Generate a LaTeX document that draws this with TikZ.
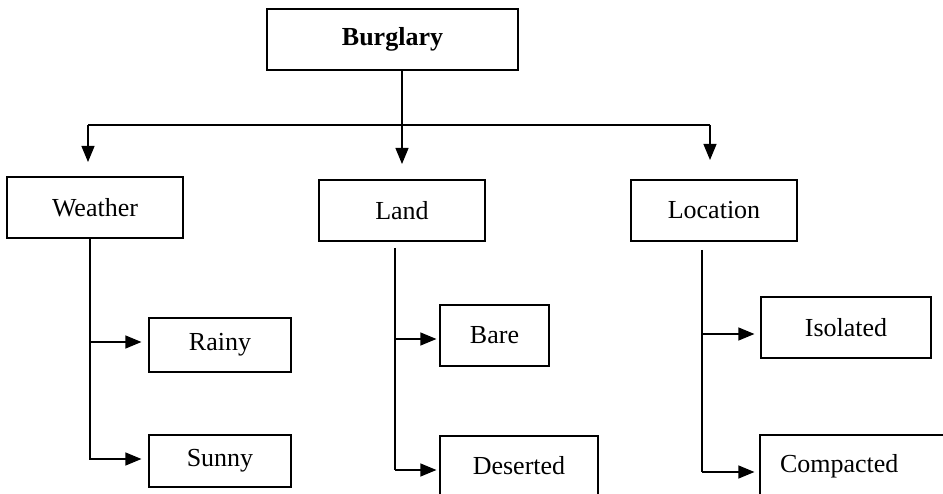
\documentclass[tikz,border=0pt]{standalone}
\usepackage{fontspec}
\setmainfont{Liberation Serif}
\usetikzlibrary{arrows.meta}
\begin{document}
\begin{tikzpicture}[x=1pt,y=-1pt,
  box/.style={draw=black,line width=1.2pt,rectangle,inner sep=0pt,
    font=\fontsize{26}{30}\selectfont},
  link/.style={draw=black,line width=1.2pt},
  arr/.style={link,-{Triangle[length=16pt,width=13pt]}},
  trunkline/.style={draw=black,line width=1.8pt}]
\useasboundingbox (0,0) rectangle (943,494);
\clip (0,0) rectangle (943,494);
% nodes
\node[box,minimum width=251pt,minimum height=61pt] (burg) at (392.5,39.5) {\textbf{Burglary}};
\node[box,minimum width=176pt,minimum height=61pt] (weather) at (95,207.5) {Weather};
\node[box,minimum width=166pt,minimum height=61pt] (land) at (402,210.5) {Land};
\node[box,minimum width=166pt,minimum height=61pt] (loc) at (714,210.5) {Location};
\node[box,minimum width=142pt,minimum height=54pt] (rainy) at (220,345) {Rainy};
\node[box,minimum width=142pt,minimum height=52pt] (sunny) at (220,461) {Sunny};
\node[box,minimum width=109pt,minimum height=61pt] (bare) at (494.5,335.5) {Bare};
\node[box,minimum width=158pt,minimum height=60pt] (des) at (519,466) {Deserted};
\node[box,minimum width=170pt,minimum height=61pt] (iso) at (846,327.5) {Isolated};
\node[box,minimum width=200pt,minimum height=62pt,text width=160pt,align=left,inner xsep=20pt] (comp) at (860,466) {Compacted};
% coordinates
\coordinate (hL) at (88,125);
\coordinate (hR) at (710,125);
\coordinate (tL) at (88,162);
\coordinate (tM) at (402,164);
\coordinate (tR) at (710,160);
\coordinate (wb) at (90,460);
\coordinate (lt) at (395,248);
\coordinate (lb) at (395,470);
\coordinate (ot) at (702,250);
\coordinate (ob) at (702,472);
% top connectors
\draw[arr] (burg.south -| tM) -- (tM);
\draw[trunkline] (hL) -- (hR);
\draw[arr] (hL) -- (tL);
\draw[arr] (hR) -- (tR);
% weather branch
\draw[link] (weather.south -| wb) -- (wb);
\draw[arr,shorten >=7pt] (wb |- 0,342) -- (rainy.west |- 0,342);
\draw[arr,shorten >=7pt] (wb |- 0,459) -- (sunny.west |- 0,459);
% land branch
\draw[link] (lt) -- (lb);
\draw[arr,shorten >=3pt] (lt |- 0,339) -- (bare.west |- 0,339);
\draw[arr,shorten >=3pt] (lb) -- (des.west |- lb);
% location branch
\draw[link] (ot) -- (ob);
\draw[arr,shorten >=6pt] (ot |- 0,334) -- (iso.west |- 0,334);
\draw[arr,shorten >=5pt] (ob) -- (comp.west |- ob);
\end{tikzpicture}
\end{document}
